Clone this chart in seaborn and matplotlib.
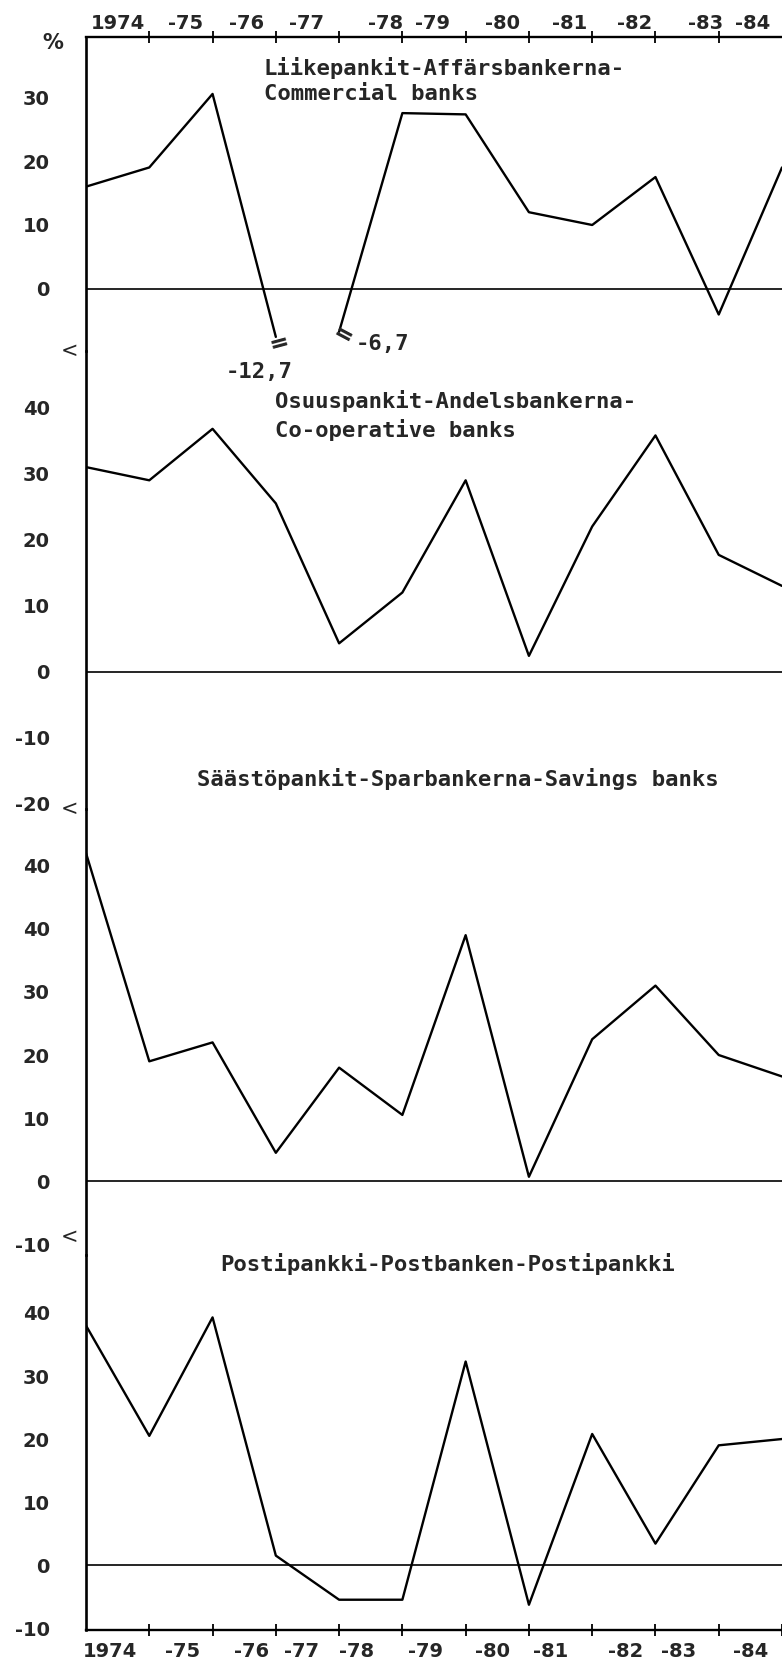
import numpy as np
import pandas as pd
import matplotlib
matplotlib.use("Agg")
import matplotlib.pyplot as plt
import seaborn as sns

# ---------------- data ----------------
points = list(range(12))  # observation positions along the time axis
commercial = [16, 19, 30.5, -12.7, -6.7, 27.5, 27.3, 12, 10, 17.5, -4, 19]
cooperative = [31, 29, 36.8, 25.5, 4.3, 12, 29, 2.4, 22, 35.8, 17.7, 13]
savings = [52, 19, 22, 4.5, 18, 10.5, 39, 0.7, 22.5, 31, 20, 16.6]
postbank = [38, 20.5, 39.3, 1.5, -5.5, -5.5, 32.3, -6.3, 20.8, 3.4, 19, 20]

year_labels = ["1974", "-75", "-76", "-77", "-78", "-79", "-80", "-81", "-82", "-83", "-84"]
top_label_pos = [0.51, 1.58, 2.53, 3.49, 4.74, 5.47, 6.59, 7.65, 8.67, 9.79, 10.54]
bottom_label_pos = [0.38, 1.53, 2.61, 3.41, 4.27, 5.36, 6.43, 7.35, 8.53, 9.37, 10.51]

titles = ["Liikepankit-Affärsbankerna-\nCommercial banks",
          "Osuuspankit-Andelsbankerna-\nCo-operative banks",
          "Säästöpankit-Sparbankerna-Savings banks",
          "Postipankki-Postbanken-Postipankki"]

ticks1 = [0, 10, 20, 30]
ticks2 = [-20, -10, 0, 10, 20, 30, 40]
ticks3 = [-10, 0, 10, 20, 30, 40, 50]
ticklabels3 = ["-10", "0", "10", "20", "30", "40", "40"]   # as printed in the original
ticks4 = [-10, 0, 10, 20, 30, 40]

break_floor = -7.5  # values below are drawn truncated with a break sign

# ---------------- style ----------------
sns.set_style("white")
plt.rcParams["font.family"] = ["DejaVu Sans"]
plt.rcParams["axes.unicode_minus"] = False

fig = plt.figure(figsize=(7.82, 16.68), dpi=100)
L, W = 0.11, 0.89
ax1 = fig.add_axes([L, 0.7896, W, 0.1882])
ax2 = fig.add_axes([L, 0.5150, W, 0.2746])
ax3 = fig.add_axes([L, 0.2476, W, 0.2674])
ax4 = fig.add_axes([L, 0.0228, W, 0.2248])
axes = [ax1, ax2, ax3, ax4]
for ax in axes:
    ax.patch.set_visible(False)
ax1.set_zorder(5)

LW = 1.7
mono = "DejaVu Sans Mono"
YFS = 14

# panel 1: commercial banks, broken between the two truncated values
disp = np.maximum(np.array(commercial, dtype=float), break_floor)
seg = [0 if i <= 3 else 1 for i in points]
df1 = pd.DataFrame({"x": points, "y": disp, "seg": seg})
sns.lineplot(data=df1, x="x", y="y", units="seg", estimator=None,
             color="black", lw=LW, ax=ax1)

for ax, vals in [(ax2, cooperative), (ax3, savings), (ax4, postbank)]:
    d = pd.DataFrame({"x": points, "y": vals})
    sns.lineplot(data=d, x="x", y="y", color="black", lw=LW, ax=ax)

ylims = [(-9.7, 39.4), (-20.8, 48.6), (-11.7, 59), (-10.3, 49.2)]
for ax, yl in zip(axes, ylims):
    ax.set_xlim(0, 11)
    ax.set_ylim(*yl)
    ax.axhline(0, color="black", lw=1.2, zorder=1)
    ax.set_xlabel("")
    ax.set_ylabel("")
    for s in ["top", "right", "bottom"]:
        ax.spines[s].set_visible(False)
    ax.spines["left"].set_linewidth(1.9)
    ax.spines["left"].set_color("black")
    ax.tick_params(axis="y", length=0, pad=26)
    ax.set_xticks([])

ax1.set_yticks(ticks1, [str(t) for t in ticks1], fontweight="bold", fontsize=YFS)
ax2.set_yticks(ticks2, [str(t) for t in ticks2], fontweight="bold", fontsize=YFS)
ax3.set_yticks(ticks3, ticklabels3, fontweight="bold", fontsize=YFS)
ax4.set_yticks(ticks4, [str(t) for t in ticks4], fontweight="bold", fontsize=YFS)

# top axis
ax1.spines["top"].set_visible(True)
ax1.spines["top"].set_linewidth(1.7)
ax1.spines["top"].set_color("black")
ax1.set_xticks(top_label_pos, year_labels, fontsize=14, fontweight="bold")
ax1.set_xticks(range(1, 11), minor=True)
ax1.tick_params(axis="x", which="major", top=True, labeltop=True, bottom=False,
                labelbottom=False, length=0, pad=3)
ax1.tick_params(axis="x", which="minor", top=True, bottom=False, length=8,
                width=1.3, direction="inout", color="black")

# bottom axis
ax4.spines["bottom"].set_visible(True)
ax4.spines["bottom"].set_linewidth(1.7)
ax4.spines["bottom"].set_color("black")
ax4.set_xticks(bottom_label_pos, year_labels, fontsize=14, fontweight="bold")
ax4.set_xticks(range(1, 12), minor=True)
ax4.tick_params(axis="x", which="major", bottom=True, labelbottom=True, length=0, pad=9)
ax4.tick_params(axis="x", which="minor", bottom=True, length=8, width=1.3,
                direction="inout", color="black")

# titles
ax1.text(2.81, 32.6, titles[0], family=mono, fontsize=16, fontweight="bold",
         ha="left", va="center", linespacing=1.35)
ax2.text(2.99, 38.8, titles[1], family=mono, fontsize=16, fontweight="bold",
         ha="left", va="center", linespacing=1.35)
ax3.text(1.75, 63.8, titles[2], family=mono, fontsize=16, fontweight="bold",
         ha="left", va="center", clip_on=False)
ax4.text(2.12, 47.8, titles[3], family=mono, fontsize=16, fontweight="bold",
         ha="left", va="center")

# break signs and true values
ax1.text(3.05, break_floor - 1.0, "=", fontsize=17, fontweight="bold",
         rotation=15, ha="center", va="center", clip_on=False)
ax1.text(4.05, commercial[4] - 0.7, "=", fontsize=17, fontweight="bold",
         rotation=-28, ha="center", va="center", clip_on=False)
ax1.text(2.73, -13.0, "-12,7", family=mono, fontsize=16, fontweight="bold",
         ha="center", va="center", clip_on=False)
ax1.text(4.69, -8.6, "-6,7", family=mono, fontsize=16, fontweight="bold",
         ha="center", va="center", clip_on=False)

# percent sign and scale-change marks
ax1.text(-0.047, 0.98, "%", transform=ax1.transAxes, fontsize=15,
         fontweight="bold", ha="center", va="center")
for ax, yy in [(ax2, 1.0), (ax3, 1.0), (ax4, 1.048)]:
    ax.text(-0.024, yy, "<", transform=ax.transAxes, fontsize=15,
            ha="center", va="center", clip_on=False)

fig.savefig("out.png", dpi=100, facecolor="white")
